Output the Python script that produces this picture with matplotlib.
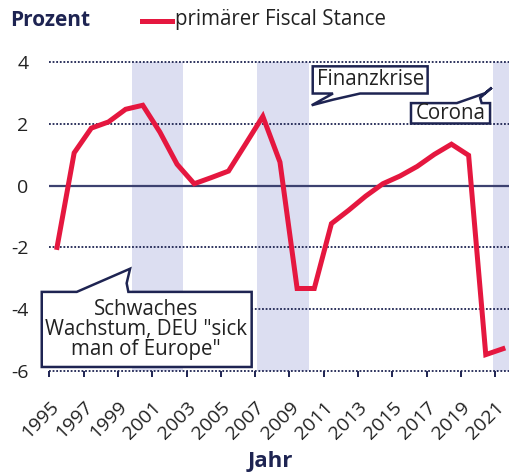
import matplotlib
matplotlib.use("Agg")
import matplotlib.pyplot as plt
from matplotlib.patches import Polygon
import numpy as np

plt.rcParams['font.family'] = ['Open Sans', 'DejaVu Sans']

# data
years = np.arange(1995, 2022)
stance = [-2.0, 1.06, 1.86, 2.06, 2.47, 2.6, 1.73, 0.69, 0.06, 0.26,
          0.47, 1.35, 2.24, 0.76, -3.33, -3.33, -1.23, -0.8, -0.34, 0.06,
          0.31, 0.62, 1.01, 1.34, 0.98, -5.47, -5.28]
bands = [(1999.8, 2002.8), (2007.1, 2010.15), (2020.85, 2022)]
tick_years = np.arange(1995, 2022, 2)
y_ticks = [4, 2, 0, -2, -4, -6]

navy = '#1e2452'
red = '#e5173f'
band_col = '#dcdef1'

fig = plt.figure(figsize=(5.09, 4.73), dpi=100)
ax = fig.add_axes([49.3 / 509, 1 - 371 / 473, (509 - 49.3) / 509, 309 / 473])
ax.set_xlim(1995, 1995 + (509 - 49.3) / 17.15)
ax.set_ylim(-6, 4)

for a, b in bands:
    ax.axvspan(a, b, color=band_col, lw=0, zorder=0)

for y in y_ticks:
    if y == 0:
        ax.axhline(y, color='#3c4170', lw=1.6, zorder=1)
    else:
        ax.axhline(y, color=navy, lw=1.3, ls=(0, (1, 1)), zorder=1, clip_on=False)

ax.plot(years + 0.45, stance, color=red, lw=3.6, solid_joinstyle='miter', zorder=3)

for s in ax.spines.values():
    s.set_visible(False)
ax.set_xticks(tick_years)
ax.set_xticklabels([str(y) for y in tick_years], rotation=45, ha='right',
                   rotation_mode='anchor', fontsize=14, color='#222')
ax.tick_params(axis='x', length=4.5, width=1.4, color=navy, pad=15)
ax.set_yticks(y_ticks)
ax.set_yticklabels([str(y) for y in y_ticks], fontsize=14, color='#222')
ax.tick_params(axis='y', length=0, pad=15)


def callout(pts, text, tx, ty):
    ax.add_patch(Polygon(pts, closed=True, fc='white', ec=navy, lw=1.8,
                         joinstyle='miter', zorder=4, clip_on=False))
    ax.text(tx, ty, text, ha='center', va='center', fontsize=14.8, color='#222',
            linespacing=0.93, zorder=5)


callout([(2010.36, 3.86), (2017.06, 3.86), (2017.06, 2.98), (2013.12, 2.98),
         (2011.54, 2.78), (2010.30, 2.60), (2011.54, 2.98), (2010.36, 2.98)],
        'Finanzkrise', 2013.71, 3.42)
callout([(2016.09, 2.67), (2018.76, 2.67), (2020.41, 2.99), (2020.80, 3.17),
         (2020.12, 2.84), (2020.21, 2.67), (2020.70, 2.67), (2020.70, 2.01),
         (2016.09, 2.01)],
        'Corona', 2018.40, 2.33)
callout([(1994.56, -3.44), (1996.60, -3.44), (1999.71, -2.69), (1999.51, -3.16),
         (1999.61, -3.44), (2006.80, -3.44), (2006.80, -5.87), (1994.56, -5.87)],
        'Schwaches\nWachstum, DEU "sick\nman of Europe"', 2000.64, -4.65)

fig.text(10 / 509, 1 - 20 / 473, 'Prozent', fontsize=15, fontweight='bold',
         color=navy, va='center', ha='left')
fig.add_artist(plt.Line2D([142 / 509, 172 / 509], [1 - 21.5 / 473, 1 - 21.5 / 473],
                          color=red, lw=3.6))
fig.text(175 / 509, 1 - 20 / 473, 'primärer Fiscal Stance', fontsize=14.8,
         color='#222', va='center', ha='left')
fig.text(270 / 509, 1 - 461 / 473, 'Jahr', fontsize=16, fontweight='bold',
         color=navy, va='center', ha='center')

fig.savefig('out.png', dpi=100)
